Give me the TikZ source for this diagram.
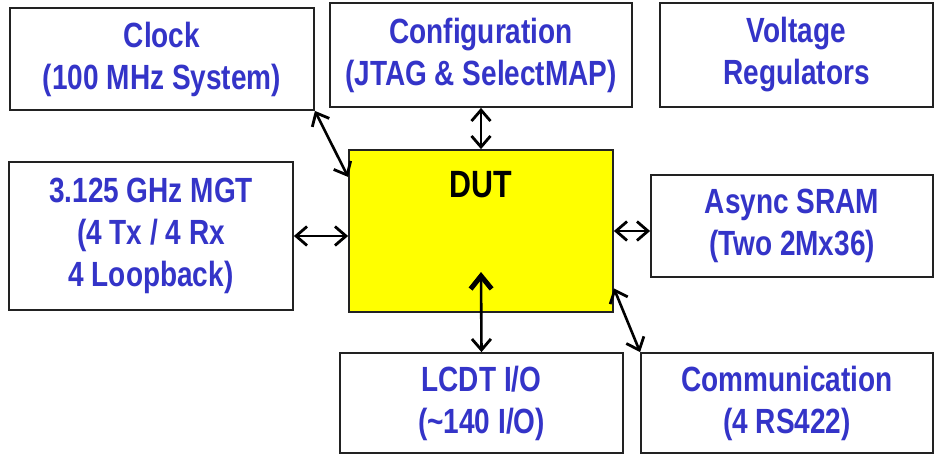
\documentclass[tikz,border=0pt]{standalone}
\usepackage{fontspec}
\usetikzlibrary{calc,arrows.meta}
\newfontfamily\boxfont{Liberation Sans}[FakeStretch=0.8]
\definecolor{labelblue}{HTML}{3434C8}
\definecolor{dutyellow}{HTML}{FFFF00}
\definecolor{boxline}{HTML}{222222}

\begin{document}
\begin{tikzpicture}[x=1pt, y=-1pt,
        box/.style={draw=boxline, line width=1.8pt, fill=white, inner sep=0pt,
                    align=center, text=labelblue, font=\boxfont\bfseries\fontsize{35}{42}\selectfont},
        dutbox/.style={box, fill=dutyellow},
        arrow/.style={{Straight Barb[length=11pt,width=19pt,line width=2.8pt]}-{Straight Barb[length=11pt,width=19pt,line width=2.8pt]},
                      draw=black, line width=2.6pt}
      ]
        \useasboundingbox (0,0) rectangle (934,455);

        \node[box, minimum width=304pt, minimum height=102pt] (clock) at (162,59) {Clock\\(100 MHz System)};
        \node[box, minimum width=302pt, minimum height=104pt] (config) at (481,55) {Configuration\\(JTAG \& SelectMAP)};
        \node[box, minimum width=273pt, minimum height=104pt] (volt) at (796.5,55) {Voltage\\Regulators};

        \node[box, minimum width=284pt, minimum height=148pt] (mgt) at (151,236) {3.125 GHz MGT\\(4 Tx / 4 Rx\\4 Loopback)};
        \node[dutbox, minimum width=264pt, minimum height=162pt,
              label={[anchor=north, inner sep=0pt, yshift=-22pt,
                      font=\boxfont\bfseries\fontsize{38}{42}\selectfont]north:DUT}] (dut) at (481,231) {};
        \node[box, minimum width=282pt, minimum height=102pt] (sram) at (792,226) {Async SRAM\\(Two 2Mx36)};

        \node[box, minimum width=283pt, minimum height=100pt] (lcdt) at (481.5,403) {LCDT I/O\\(\textasciitilde 140 I/O)};
        \node[box, minimum width=292pt, minimum height=100pt] (comm) at (787,403) {Communication\\(4 RS422)};

        \coordinate (lcdtend) at (481,272);

        \draw[arrow] (clock.south east) -- ($(dut.north west)!0.17!(dut.south west)$);
        \draw[arrow] (config.south) -- (dut.north);
        \draw[arrow] (mgt.east) -- (mgt.east -| dut.west);
        \draw[arrow] (dut.east) -- (dut.east -| sram.west);
        \draw[arrow, {Straight Barb[length=11pt,width=19pt,line width=2.8pt]}-{Straight Barb[length=13pt,width=21pt,line width=5pt]}] (lcdt.north) -- (lcdtend);
        \draw[arrow] ($(dut.north east)!0.85!(dut.south east)$) -- (comm.north west);
      \end{tikzpicture}
\end{document}
